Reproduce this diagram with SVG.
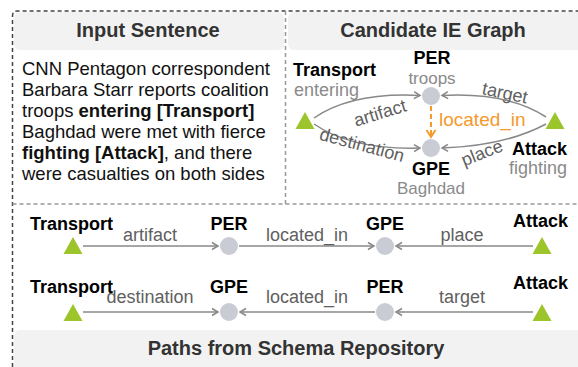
<svg xmlns="http://www.w3.org/2000/svg" width="578" height="367" viewBox="0 0 578 367">
  <defs>
    <marker id="arr" markerWidth="10" markerHeight="10" refX="7" refY="5" orient="auto" markerUnits="userSpaceOnUse">
      <path d="M1,1.5 L7,5 L1,8.5" fill="none" stroke="#888" stroke-width="1.5"/>
    </marker>
    <marker id="arr-o" markerWidth="12" markerHeight="12" refX="8" refY="6" orient="auto" markerUnits="userSpaceOnUse">
      <path d="M1,1.5 L8,6 L1,10.5" fill="none" stroke="#f39a2b" stroke-width="2"/>
    </marker>
    <polygon id="tri" points="0,-9 9.5,8 -9.5,8"/>
  </defs>
  <style>
    text { font-family: "Liberation Sans", Arial, Helvetica, sans-serif; }
    .hdr { fill: #f2f2f2; }
    .htxt { font-size: 20px; font-weight: bold; fill: #333; text-anchor: middle; }
    .body { font-size: 18.5px; fill: #111; }
    .b { font-weight: bold; }
    .ent { font-size: 18px; font-weight: bold; fill: #000; }
    .sub { font-size: 18px; fill: #8a8a8a; }
    .sub-s { font-size: 17px; fill: #8a8a8a; }
    .rel { font-size: 18px; fill: #606060; text-anchor: middle; }
    .mid { text-anchor: middle; }
    .node { fill: #c9ccd4; }
    .trig { fill: #9cc42b; }
    .edge { fill: none; stroke: #888; stroke-width: 1.5; marker-end: url(#arr); }
    .frame-d { fill: none; stroke: #444; stroke-width: 1.5; stroke-dasharray: 4 3; }
    .frame-l { fill: none; stroke: #999; stroke-width: 1.5; stroke-dasharray: 4 3; }
  </style>

  <rect width="578" height="367" fill="#fff"/>

  <!-- panel headers -->
  <rect class="hdr" x="14" y="12" width="270" height="38" rx="6"/>
  <rect class="hdr" x="288" y="12" width="300" height="38" rx="6"/>
  <rect class="hdr" x="14" y="330" width="574" height="50" rx="6"/>

  <!-- dashed frames -->
  <path class="frame-d" d="M12.5,367 V16 Q12.5,11 17.5,11 H578"/>
  <path class="frame-l" d="M285.5,11 V204"/>
  <path class="frame-l" d="M12.5,204 H578"/>

  <text class="htxt" x="148" y="37">Input Sentence</text>
  <text class="htxt" x="433" y="37">Candidate IE Graph</text>
  <text class="htxt" x="296" y="355">Paths from Schema Repository</text>

  <!-- sentence -->
  <g id="sentence" class="body">
    <text x="22" y="74.5">CNN Pentagon correspondent</text>
    <text x="22" y="95.5">Barbara Starr reports coalition</text>
    <text x="22" y="116.5">troops <tspan class="b">entering [Transport]</tspan></text>
    <text x="22" y="137.5">Baghdad were met with fierce</text>
    <text x="22" y="158.5"><tspan class="b">fighting [Attack]</tspan>, and there</text>
    <text x="22" y="179.5">were casualties on both sides</text>
  </g>

  <!-- candidate graph connectors -->
  <g id="graph-edges">
    <path class="edge" d="M314,118 Q352,92 420,95.5"/>
    <path class="edge" d="M314,124 Q352,150 420,148"/>
    <path class="edge" d="M546,117 Q508,92 442,95.5"/>
    <path class="edge" d="M546,124 Q505,146 442,148"/>
    <path d="M431,106 V137" fill="none" stroke="#f39a2b" stroke-width="2" stroke-dasharray="5 3" marker-end="url(#arr-o)"/>
    <text class="rel" transform="translate(380,113) rotate(-17)" y="6">artifact</text>
    <text class="rel" transform="translate(362,145) rotate(15)" y="6">destination</text>
    <text class="rel" transform="translate(505,93) rotate(12)" y="6">target</text>
    <text class="rel" transform="translate(482,153) rotate(-22)" y="6">place</text>
    <text x="439" y="126" font-size="19" fill="#f39a2b">located_in</text>
  </g>

  <!-- candidate graph nodes -->
  <g id="g-transport">
    <use href="#tri" class="trig" x="305" y="121"/>
    <text class="ent" x="293" y="76">Transport</text>
    <text class="sub" x="294" y="96">entering</text>
  </g>
  <g id="g-per">
    <circle class="node" cx="431" cy="96" r="9"/>
    <text class="ent mid" x="432" y="64">PER</text>
    <text class="sub-s mid" x="432" y="84">troops</text>
  </g>
  <g id="g-gpe">
    <circle class="node" cx="431" cy="148" r="9"/>
    <text class="ent mid" x="431" y="175">GPE</text>
    <text class="sub-s mid" x="431" y="194">Baghdad</text>
  </g>
  <g id="g-attack">
    <use href="#tri" class="trig" x="555" y="121"/>
    <text class="ent" x="512" y="155">Attack</text>
    <text class="sub" x="509" y="174">fighting</text>
  </g>

  <!-- schema path connectors -->
  <g id="path-edges">
    <line class="edge" x1="83" y1="246" x2="218" y2="246"/>
    <line class="edge" x1="239" y1="246" x2="374" y2="246"/>
    <line class="edge" x1="533" y1="246" x2="396" y2="246"/>
    <line class="edge" x1="83" y1="312" x2="218" y2="312"/>
    <line class="edge" x1="375" y1="312" x2="240" y2="312"/>
    <line class="edge" x1="533" y1="312" x2="396" y2="312"/>
    <text class="rel" x="150" y="241">artifact</text>
    <text class="rel" x="307" y="241">located_in</text>
    <text class="rel" x="462" y="241">place</text>
    <text class="rel" x="150" y="303">destination</text>
    <text class="rel" x="307" y="303">located_in</text>
    <text class="rel" x="462" y="303">target</text>
  </g>

  <!-- path 1 nodes -->
  <g id="p1-transport">
    <use href="#tri" class="trig" x="73" y="246"/>
    <text class="ent" x="30" y="230">Transport</text>
  </g>
  <g id="p1-per">
    <circle class="node" cx="229" cy="246" r="9"/>
    <text class="ent mid" x="229" y="230">PER</text>
  </g>
  <g id="p1-gpe">
    <circle class="node" cx="385" cy="246" r="9"/>
    <text class="ent mid" x="385" y="230">GPE</text>
  </g>
  <g id="p1-attack">
    <use href="#tri" class="trig" x="542" y="246"/>
    <text class="ent" x="513" y="227">Attack</text>
  </g>

  <!-- path 2 nodes -->
  <g id="p2-transport">
    <use href="#tri" class="trig" x="73" y="313"/>
    <text class="ent" x="30" y="293">Transport</text>
  </g>
  <g id="p2-gpe">
    <circle class="node" cx="229" cy="312" r="9"/>
    <text class="ent mid" x="229" y="293">GPE</text>
  </g>
  <g id="p2-per">
    <circle class="node" cx="385" cy="312" r="9"/>
    <text class="ent mid" x="385" y="293">PER</text>
  </g>
  <g id="p2-attack">
    <use href="#tri" class="trig" x="542" y="313"/>
    <text class="ent" x="513" y="289">Attack</text>
  </g>
</svg>
